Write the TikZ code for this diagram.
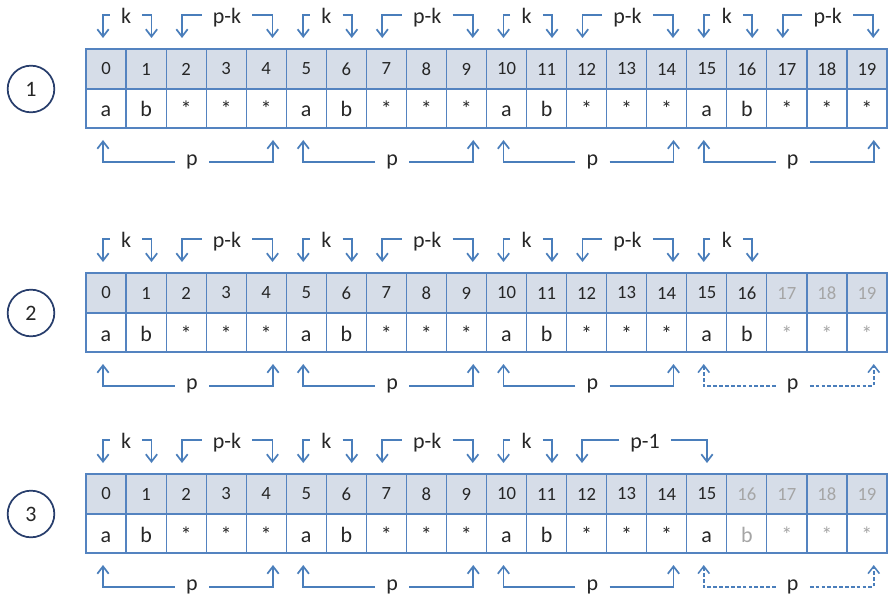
\documentclass[tikz,border=0pt]{standalone}
\usepackage{fontspec}
\setmainfont{Carlito}
\usetikzlibrary{arrows.meta}
\definecolor{arrblue}{RGB}{74,126,187}
\definecolor{gridblue}{RGB}{84,131,192}
\definecolor{hfillc}{RGB}{214,221,232}
\definecolor{txtc}{RGB}{38,38,38}
\definecolor{grayc}{RGB}{165,165,165}
\definecolor{circc}{RGB}{40,62,108}

\newcommand\drawtable[6]{% #1 id, #2 T, #3 M, #4 B, #5 last black index, #6 circle number
  \fill[hfillc] (86,#2) rectangle (887,#3);
  \foreach \i in {1,...,19} \draw[gridthin] ({86+40.05*\i},#2) -- ({86+40.05*\i},#4);
  \draw[gridmid] (86,#3) -- (887,#3);
  \draw[gridouter] (86,#2) rectangle (887,#4);
  \foreach \i in {0,...,19}{
    \pgfmathtruncatemacro\cellm{mod(\i,5)}
    \ifnum\i>#5 \def\cellc{grayc}\else\def\cellc{txtc}\fi
    \node[htext,text=\cellc] (#1h\i) at ({86+40.05*\i+20},{(#2+#3)/2}) {\i};
    \node[dtext,text=\cellc] (#1d\i) at ({86+40.05*\i+20},#4-11) {\ifcase\cellm a\or b\else *\fi};
  }
  \node[circ] (#1c) at (31,#3) {#6};
}

\newcommand\topbr[6]{% #1 name, #2 text, #3 label x, #4 T, #5 left tip x, #6 right tip x
  \node[toplab] (#1) at (#3,#4-34) {#2};
  \coordinate (#1l) at (#5,#4-11);
  \coordinate (#1r) at (#6,#4-11);
  \draw[arr] (#1.west) -| (#1l);
  \draw[arr] (#1.east) -| (#1r);
}
\newcommand\botbr[7]{% #1 name, #2 text, #3 label x, #4 B, #5 left x, #6 right x, #7 style
  \node[botlab] (#1) at (#3,#4+34) {#2};
  \coordinate (#1l) at (#5,#4+12);
  \coordinate (#1r) at (#6,#4+12);
  \draw[arr,#7] (#1.west) -| (#1l);
  \draw[arr,#7] (#1.east) -| (#1r);
}
\newcommand\kgroup[3]{%
  \pgfmathsetmacro\grpL{86+40.05*#3}%
  \topbr{#1k#3}{k}{\grpL+40}{#2}{\grpL+17}{\grpL+65.5}}
\newcommand\pkgroup[3]{%
  \pgfmathsetmacro\grpL{86+40.05*#3}%
  \topbr{#1pk#3}{p-k}{\grpL+141}{#2}{\grpL+96}{\grpL+186.5}}
\newcommand\pgroup[4]{%
  \pgfmathsetmacro\grpL{86+40.05*#3}%
  \botbr{#1p#3}{p}{\grpL+106}{#2}{\grpL+17}{\grpL+187}{#4}}

\begin{document}
\begin{tikzpicture}[x=0.75pt,y=-0.75pt,
  gridthin/.style={draw=gridblue,line width=0.9pt},
  gridmid/.style={draw=gridblue,line width=1.6pt},
  gridouter/.style={draw=gridblue,line width=1.1pt},
  htext/.style={font=\fontsize{14}{16}\selectfont,inner sep=0pt},
  dtext/.style={font=\fontsize{16.5}{19}\selectfont,inner sep=0pt,anchor=base},
  circ/.style={circle,draw=circc,line width=1.3pt,minimum size=35pt,inner sep=0pt,
    text=txtc,font=\fontsize{16.5}{19}\selectfont},
  toplab/.style={font=\fontsize{16.5}{19}\selectfont,text=txtc,inner xsep=8.25pt,inner ysep=0pt,
    text height=12.9pt,text depth=0pt},
  botlab/.style={font=\fontsize{16.5}{19}\selectfont,text=txtc,inner xsep=8.25pt,inner ysep=0pt,
    text height=4.6pt,text depth=0pt},
  arr/.style={draw=arrblue,line width=1.3pt,-{Straight Barb[length=5.5pt,width=8.5pt]}},
  dashedarr/.style={line width=1.15pt,dash pattern=on 2.8pt off 1.6pt},
  solidarr/.style={}
]
\useasboundingbox (0,0) rectangle (888,595);

% Row 1
\drawtable{r1}{49}{89}{128}{19}{1}
\foreach \s in {0,5,10,15}{\kgroup{r1}{49}{\s}\pkgroup{r1}{49}{\s}\pgroup{r1}{128}{\s}{solidarr}}

% Row 2
\drawtable{r2}{273}{313}{352}{16}{2}
\foreach \s in {0,5,10}{\kgroup{r2}{273}{\s}\pkgroup{r2}{273}{\s}\pgroup{r2}{352}{\s}{solidarr}}
\kgroup{r2}{273}{15}
\pgroup{r2}{352}{15}{dashedarr}

% Row 3
\drawtable{r3}{474}{514}{553}{15}{3}
\foreach \s in {0,5}{\kgroup{r3}{474}{\s}\pkgroup{r3}{474}{\s}}
\kgroup{r3}{474}{10}
\topbr{r3pm}{p-1}{645}{474}{582}{707}
\foreach \s in {0,5,10}{\pgroup{r3}{553}{\s}{solidarr}}
\pgroup{r3}{553}{15}{dashedarr}
\end{tikzpicture}
\end{document}
